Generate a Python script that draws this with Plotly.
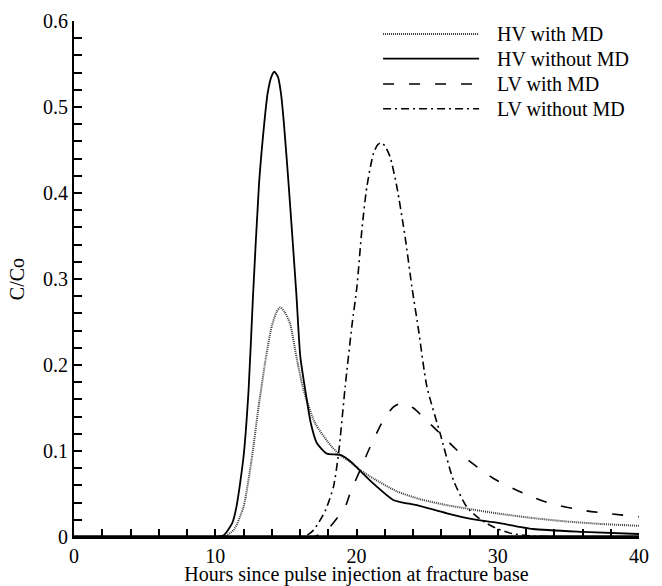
import plotly.graph_objects as go

# ---- data ----
hv_nomd_t = [0, 10.0, 10.6, 11.2, 11.5, 12.0, 12.36, 12.67, 13.1, 13.47, 13.71, 13.97, 14.18,
             14.44, 14.65, 14.86, 15.19, 15.74, 16.02, 16.37, 16.77, 17.2, 17.9, 18.4, 18.85,
             19.5, 20.26, 21.2, 22.6, 23.3, 24.27, 26.4, 28.3, 29.93, 32.5, 36.0, 40.0]
hv_nomd_c = [0, 0, 0.002, 0.016, 0.035, 0.093, 0.171, 0.279, 0.411, 0.481, 0.516, 0.535, 0.541,
             0.535, 0.516, 0.481, 0.411, 0.283, 0.210, 0.171, 0.132, 0.109, 0.097, 0.096, 0.0955,
             0.089, 0.077, 0.062, 0.043, 0.040, 0.037, 0.0275, 0.0205, 0.0167, 0.0093, 0.006, 0.0035]

hv_md_t = [0, 10.5, 11.3, 12.0, 12.6, 13.07, 13.6, 14.0, 14.35, 14.6, 14.9, 15.3, 15.74, 16.25,
           17.08, 18.14, 18.85, 19.5, 20.26, 21.2, 22.86, 24.5, 26.4, 28.2, 29.93, 32.5, 34.9, 37.5, 40.0]
hv_md_c = [0, 0, 0.008, 0.035, 0.093, 0.1515, 0.21, 0.245, 0.262, 0.267, 0.262, 0.248, 0.21, 0.171,
           0.132, 0.107, 0.095, 0.088, 0.078, 0.068, 0.053, 0.044, 0.037, 0.032, 0.0275, 0.022, 0.018, 0.015, 0.013]

lv_md_t = [0, 16.9, 17.9, 18.97, 19.3, 19.55, 20.26, 20.97, 21.9, 22.6, 23.2, 24.03, 24.8,
           25.69, 27.57, 29.7, 31.8, 33.7, 36.05, 38.0, 40.0]
lv_md_c = [0, 0, 0.008, 0.0295, 0.039, 0.051, 0.078, 0.105, 0.136, 0.151, 0.156, 0.150, 0.138,
           0.124, 0.094, 0.068, 0.051, 0.039, 0.031, 0.027, 0.0236]

lv_nomd_t = [0, 16.25, 16.96, 17.8, 18.37, 18.73, 19.2, 19.67, 20.03, 20.38, 20.73, 21.2, 21.5,
             21.72, 22.0, 22.38, 22.86, 23.44, 23.92, 24.4, 24.98, 25.92, 26.86, 27.8, 28.5,
             29.2, 29.9, 31.0, 32.5, 40.0]
lv_nomd_c = [0, 0, 0.008, 0.031, 0.0585, 0.097, 0.175, 0.245, 0.291, 0.357, 0.407, 0.446, 0.456,
             0.4585, 0.455, 0.442, 0.407, 0.349, 0.291, 0.240, 0.175, 0.1205, 0.066, 0.035, 0.024,
             0.016, 0.010, 0.004, 0.001, 0]

series_names = ["HV with MD", "HV without MD", "LV with MD", "LV without MD"]
series_dash = ["1px,1px", "solid", "11px,15px", "8px,4px,2px,4px"]
series_color = ["#3a3a3a", "black", "black", "black"]
series_width = [2.0, 1.8, 1.6, 1.6]

x_range = [0, 40]
y_range = [0, 0.6]
x_title = "Hours since pulse injection at fracture base"
y_title = "C/Co"
# tick positions every minor step; labels only on the major ones
x_tick_vals = list(range(0, 41, 2))
x_tick_text = [str(v) if v % 10 == 0 else "" for v in x_tick_vals]
y_tick_vals = [round(0.02 * k, 2) for k in range(0, 31)]
y_tick_text = [("0" if k == 0 else f"{0.02 * k:.1f}") if k % 5 == 0 else "" for k in range(0, 31)]

FONT = "Liberation Serif, Times New Roman, serif"

fig = go.Figure()
data = [(hv_md_t, hv_md_c), (hv_nomd_t, hv_nomd_c), (lv_md_t, lv_md_c), (lv_nomd_t, lv_nomd_c)]
for (t, c), name, dash, col, w in zip(data, series_names, series_dash, series_color, series_width):
    fig.add_trace(go.Scatter(x=t, y=c, mode="lines", name=name,
                             line=dict(color=col, width=w, dash=dash, shape="spline", smoothing=0.6),
                             showlegend=False))

# reinforce the bottom axis line along the x range at y = 0
fig.add_trace(go.Scatter(x=x_range, y=[y_range[0], y_range[0]], mode="lines",
                         line=dict(color="black", width=3.5), showlegend=False,
                         hoverinfo="skip", cliponaxis=False))

# manual legend (long line samples)
leg_y = [0.975, 0.927, 0.878, 0.830]
for name, dash, col, w, yy in zip(series_names, series_dash, series_color, series_width, leg_y):
    fig.add_shape(type="line", xref="paper", yref="paper", x0=0.547, x1=0.717, y0=yy, y1=yy,
                  line=dict(color=col, width=w, dash=dash))
    fig.add_annotation(xref="paper", yref="paper", x=0.745, y=yy, text=name, showarrow=False,
                       xanchor="left", yanchor="middle", font=dict(family=FONT, size=20, color="black"))

fig.update_layout(
    width=662, height=586,
    margin=dict(l=74, r=23, t=21, b=49),
    paper_bgcolor="white", plot_bgcolor="white",
    font=dict(family=FONT, size=20, color="black"),
)
fig.update_xaxes(
    range=x_range, tickmode="array", tickvals=x_tick_vals, ticktext=x_tick_text,
    showgrid=False, zeroline=False, automargin=False,
    showline=True, linecolor="black", linewidth=2,
    ticks="inside", ticklen=8, tickwidth=1.5, tickcolor="black",
    title=dict(text=x_title, font=dict(family=FONT, size=20), standoff=8),
    tickfont=dict(family=FONT, size=20),
)
fig.update_yaxes(
    range=y_range, tickmode="array", tickvals=y_tick_vals, ticktext=y_tick_text,
    showgrid=False, zeroline=False, automargin=False,
    showline=True, linecolor="black", linewidth=2,
    ticks="inside", ticklen=8, tickwidth=1.5, tickcolor="black",
    title=dict(text=y_title, font=dict(family=FONT, size=20), standoff=13),
    tickfont=dict(family=FONT, size=20),
)

fig.write_html("out.html", config={"displayModeBar": False},
               post_script="document.body.style.margin='0';")
